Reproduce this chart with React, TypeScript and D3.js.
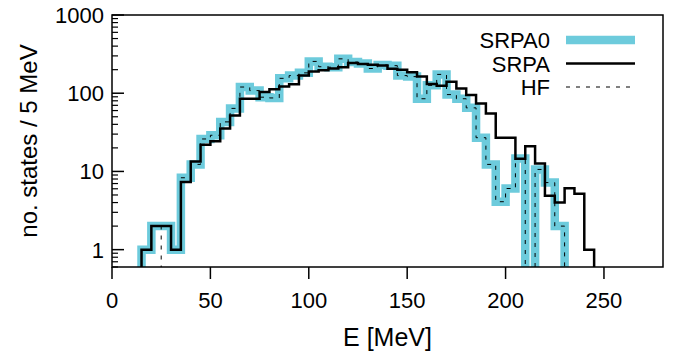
import React from "react";
import * as d3 from "d3";

// 5 MeV bins, left edges from 15 MeV up to 240 MeV
const binStart = 15;
const binWidth = 5;

const srpa0 = [
  1, 2, 2, 1, 8.3, 12.3, 26, 29, 43, 64, 120, 108, 89, 87, 155, 168, 182, 255, 218, 215, 275, 250, 240,
  207, 230, 225, 168, 163, 85, 126, 174, 96, 85, 65, 27, 12.3, 4.1, 6.05, 14.6, 0, 10.6, 7.2, 2, 0, 0, 0,
];
const srpa = [
  1, 2, 2, 1, 7.3, 13.4, 22, 24.4, 35.5, 52, 85, 85, 104, 112, 122, 130, 169, 190, 197, 207, 215, 243, 236,
  232, 226, 205, 200, 185, 164, 131, 125, 140, 115, 95, 74, 55, 27, 27, 14.5, 21, 12.6, 4.9, 4, 6.1, 5.2, 1,
];
// null = no entry in the HF file for that bin
const hf: (number | null)[] = [
  1, 2, 0, null, 8.3, 12.3, 26, 29, 43, 64, 120, 108, 89, 87, 155, 168, 182, 255, 218, 215, 275, 250, 240,
  207, 230, 225, 168, 163, 85, 126, 174, 96, 85, 65, 27, 12.3, 4.1, 6.05, 14.6, 0, 10.6, 7.2, 2, 0, 0, 0,
];

const xTicks = [0, 50, 100, 150, 200, 250];
const yMajor = [1, 10, 100, 1000];

const W = 683;
const H = 357;
const left = 112;
const right = 663;
const top = 15;
const bottom = 267;

const cyan = "#6dcbdc";
const font = "'Liberation Sans', Arial, Helvetica, sans-serif";

const x = d3.scaleLinear().domain([0, 280]).range([left, right]);
const y = d3.scaleLog().domain([0.6, 1000]).range([bottom, top]);

function stepPath(vals: (number | null)[]) {
  let d = "";
  let pen: [number, number] | null = null;
  const seg = (x1: number, y1: number, x2: number, y2: number) => {
    if (pen && Math.abs(pen[0] - x1) < 1e-6 && Math.abs(pen[1] - y1) < 1e-6) d += `L${x2},${y2}`;
    else d += `M${x1},${y1}L${x2},${y2}`;
    pen = [x2, y2];
  };
  const yy = (v: number) => (v > 0 ? y(v) : bottom);
  vals.forEach((v, i) => {
    const prev = i > 0 ? vals[i - 1] : 0;
    const xl = x(binStart + i * binWidth);
    const xr = x(binStart + (i + 1) * binWidth);
    if (v !== null && prev !== null && (v > 0 || prev > 0)) seg(xl, yy(prev), xl, yy(v));
    if (v !== null && v > 0) seg(xl, y(v), xr, y(v));
  });
  const last = vals[vals.length - 1];
  if (last !== null && last > 0) {
    const xe = x(binStart + vals.length * binWidth);
    seg(xe, y(last), xe, bottom);
  }
  return d;
}

export default function App() {
  const minor: number[] = [];
  [0.1, 1, 10, 100].forEach((dec) => {
    for (let k = 2; k <= 9; k++) {
      const v = k * dec;
      if (v >= 0.6 && v < 1000) minor.push(v);
    }
  });

  const legend = [
    { name: "SRPA0", color: cyan, width: 8.5, dash: undefined as string | undefined },
    { name: "SRPA", color: "#000", width: 2.5, dash: undefined },
    { name: "HF", color: "#000", width: 1, dash: "4 6" },
  ];

  return (
    <>
      <style>{`body{margin:0}`}</style>
      <svg width={W} height={H} style={{ display: "block", background: "#fff" }} fontFamily={font}>
        <defs>
          <clipPath id="plot">
            <rect x={left} y={top} width={right - left} height={bottom - top} />
          </clipPath>
        </defs>

        <g clipPath="url(#plot)" fill="none">
          <path d={stepPath(srpa0)} stroke={cyan} strokeWidth={8.5} strokeLinejoin="miter" />
          <path d={stepPath(srpa)} stroke="#000" strokeWidth={2.5} strokeLinejoin="miter" />
          <path d={stepPath(hf)} stroke="#000" strokeWidth={1} strokeDasharray="4 6" />
        </g>

        {/* y ticks */}
        {yMajor.map((v) => (
          <g key={v}>
            <line x1={left} x2={left + 12} y1={y(v)} y2={y(v)} stroke="#000" strokeWidth={1.5} />
            <text x={104} y={y(v)} dy="0.36em" textAnchor="end" fontSize={22}>
              {v}
            </text>
          </g>
        ))}
        {minor.map((v) => (
          <line key={v} x1={left} x2={left + 6} y1={y(v)} y2={y(v)} stroke="#000" strokeWidth={1.2} />
        ))}

        {/* x ticks */}
        {xTicks.map((t) => (
          <g key={t}>
            <line x1={x(t)} x2={x(t)} y1={bottom} y2={bottom + 12} stroke="#000" strokeWidth={1.5} />
            <text x={x(t)} y={308} textAnchor="middle" fontSize={22}>
              {t}
            </text>
          </g>
        ))}

        <rect x={left} y={top} width={right - left} height={bottom - top} fill="none" stroke="#000" strokeWidth={1.5} />

        <text x={(left + right) / 2} y={346} textAnchor="middle" fontSize={25}>
          E [MeV]
        </text>
        <text transform={`translate(37,${(top + bottom) / 2}) rotate(-90)`} textAnchor="middle" fontSize={24}>
          no. states / 5 MeV
        </text>

        {legend.map((l, i) => {
          const cy = 40 + i * 23.5;
          return (
            <g key={l.name}>
              <text x={550} y={cy + 8} textAnchor="end" fontSize={22}>
                {l.name}
              </text>
              <line x1={566} x2={635} y1={cy} y2={cy} stroke={l.color} strokeWidth={l.width} strokeDasharray={l.dash} />
            </g>
          );
        })}
      </svg>
    </>
  );
}
